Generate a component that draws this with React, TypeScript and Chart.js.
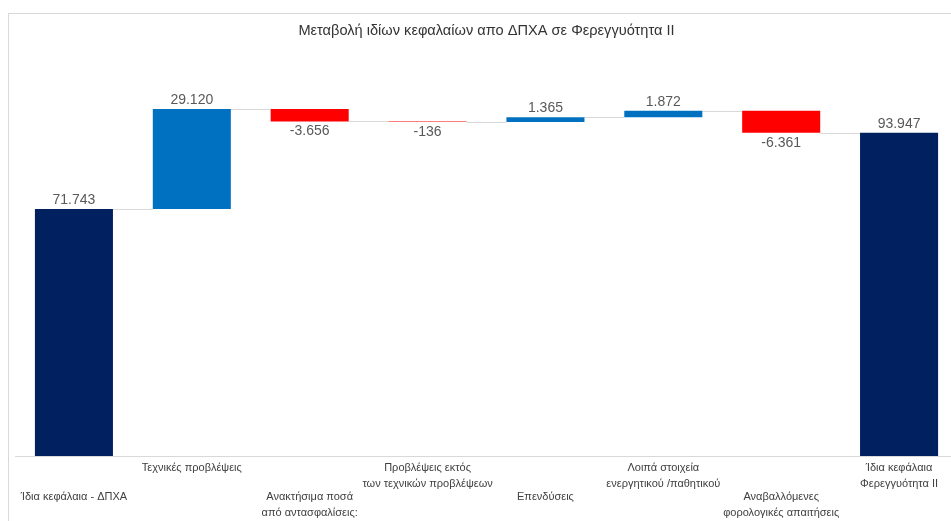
import React, { useEffect, useRef } from 'react';
import { Chart, registerables } from 'chart.js';
Chart.register(...registerables);

const TITLE = 'Μεταβολή ιδίων κεφαλαίων απο ΔΠΧΑ σε Φερεγγυότητα ΙΙ';

const categories: string[][] = [
  ['Ίδια κεφάλαια - ΔΠΧΑ'],
  ['Τεχνικές προβλέψεις'],
  ['Ανακτήσιμα ποσά', 'από αντασφαλίσεις:'],
  ['Προβλέψεις εκτός', 'των τεχνικών προβλέψεων'],
  ['Επενδύσεις'],
  ['Λοιπά στοιχεία', 'ενεργητικού /παθητικού'],
  ['Αναβαλλόμενες', 'φορολογικές απαιτήσεις'],
  ['Ίδια κεφάλαια', 'Φερεγγυότητα ΙΙ'],
];

const values: number[] = [71743, 29120, -3656, -136, 1365, 1872, -6361, 93947];
const isTotal: boolean[] = [true, false, false, false, false, false, false, true];

const Y_MIN = 0;
const Y_MAX = 120000;

const COLOR_TOTAL = '#002060';
const COLOR_UP = '#0070C0';
const COLOR_DOWN = '#FF0000';
const FONT = '"Liberation Sans", Arial, sans-serif';

function fmt(v: number): string {
  const s = Math.abs(v).toString().replace(/\B(?=(\d{3})+(?!\d))/g, '.');
  return (v < 0 ? '-' : '') + s;
}

// Build floating ranges and running levels
const ranges: [number, number][] = [];
const levels: number[] = [];
{
  let run = 0;
  values.forEach((v, i) => {
    if (isTotal[i]) {
      run = v;
      ranges.push([0, v]);
    } else {
      const s = run;
      run += v;
      ranges.push([Math.min(s, run), Math.max(s, run)]);
    }
    levels.push(run);
  });
}
const colors = values.map((v, i) => (isTotal[i] ? COLOR_TOTAL : v >= 0 ? COLOR_UP : COLOR_DOWN));

const waterfallPlugin = {
  id: 'waterfallExtras',
  beforeDatasetsDraw(chart: any) {
    const ctx = chart.ctx;
    const meta = chart.getDatasetMeta(0);
    const y = chart.scales.y;
    ctx.save();
    ctx.strokeStyle = '#d9d9d9';
    ctx.lineWidth = 1;
    for (let i = 0; i < meta.data.length - 1; i++) {
      const a = meta.data[i].getProps(['x', 'width'], true);
      const b = meta.data[i + 1].getProps(['x', 'width'], true);
      const py = Math.round(y.getPixelForValue(levels[i])) + 0.5;
      ctx.beginPath();
      ctx.moveTo(a.x + a.width / 2, py);
      ctx.lineTo(b.x - b.width / 2, py);
      ctx.stroke();
    }
    ctx.restore();
  },
  afterDatasetsDraw(chart: any) {
    const ctx = chart.ctx;
    const meta = chart.getDatasetMeta(0);
    ctx.save();
    ctx.font = `14px ${FONT}`;
    ctx.fillStyle = '#595959';
    ctx.textAlign = 'center';
    ctx.textBaseline = 'middle';
    meta.data.forEach((el: any, i: number) => {
      const p = el.getProps(['x', 'y', 'base'], true);
      const top = Math.min(p.y, p.base);
      const bottom = Math.max(p.y, p.base);
      const v = values[i];
      if (v >= 0) ctx.fillText(fmt(v), p.x, top - 9);
      else ctx.fillText(fmt(v), p.x, bottom + 10);
    });
    ctx.restore();
  },
  afterDraw(chart: any) {
    const ctx = chart.ctx;
    const x = chart.scales.x;
    const base = chart.chartArea.bottom;
    ctx.save();
    ctx.font = `11px ${FONT}`;
    ctx.fillStyle = '#404040';
    ctx.textAlign = 'center';
    ctx.textBaseline = 'middle';
    categories.forEach((lines, i) => {
      const cx = x.getPixelForValue(i);
      const first = base + (i % 2 === 1 ? 12 : 41);
      lines.forEach((ln, j) => ctx.fillText(ln, cx, first + j * 16));
    });
    ctx.restore();
  },
};

export default function App() {
  const ref = useRef<HTMLCanvasElement>(null);
  useEffect(() => {
    const chart = new Chart(ref.current!, {
      type: 'bar',
      data: {
        labels: categories.map((c) => c.join(' ')),
        datasets: [
          {
            data: ranges as any,
            backgroundColor: colors,
            borderWidth: 0,
            barPercentage: 0.662,
            categoryPercentage: 1,
          },
        ],
      },
      options: {
        animation: false,
        responsive: false,
        layout: { padding: { left: 6, right: 7, top: 0, bottom: 68 } },
        plugins: {
          legend: { display: false },
          tooltip: { enabled: false },
          title: {
            display: true,
            text: TITLE,
            color: '#333333',
            font: { family: FONT, size: 14.6, weight: 'normal', lineHeight: 1.2 },
            padding: { top: 8, bottom: 3.5 },
          },
        },
        scales: {
          x: {
            grid: { display: false },
            ticks: { display: false },
            border: { display: true, color: '#d9d9d9', width: 1 },
          },
          y: { display: false, min: Y_MIN, max: Y_MAX },
        },
      },
      plugins: [waterfallPlugin],
    });
    return () => chart.destroy();
  }, []);
  return (
    <div style={{ position: 'fixed', left: 0, top: 0, width: 951, height: 521, overflow: 'hidden', background: '#fff' }}>
      <div
        style={{
          position: 'absolute',
          left: 8,
          top: 13,
          width: 980,
          height: 540,
          border: '1px solid #d9d9d9',
          boxSizing: 'border-box',
        }}
      >
        <canvas ref={ref} width={956} height={518} style={{ position: 'absolute', left: 0, top: 0, display: 'block' }} />
      </div>
    </div>
  );
}
